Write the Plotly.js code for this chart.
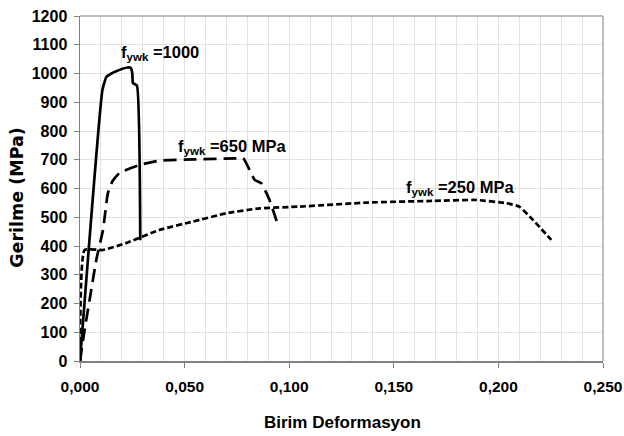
<!DOCTYPE html>
<html>
<head>
<meta charset="utf-8">
<script src="https://cdn.plot.ly/plotly-3.0.1.min.js"></script>
<style>html,body{margin:0;padding:0;background:#fff;}#chart{width:624px;height:436px;}</style>
</head>
<body>
<div id="chart"></div>
<script>
// f_ywk = 1000 (solid)
const strain1000 = [0, 0.0107, 0.0126, 0.0150, 0.0173, 0.0221, 0.0242, 0.0250, 0.0253, 0.0272, 0.0288];
const stress1000 = [0, 942, 988, 1000, 1008, 1020, 1020, 1000, 967, 958, 420];
// f_ywk = 650 MPa (long dash)
const strain650 = [0, 0.0022, 0.0046, 0.0078, 0.0110, 0.0133, 0.0155, 0.0190, 0.0285, 0.0380, 0.0540, 0.0747, 0.0780, 0.0811, 0.0835, 0.0867, 0.0906, 0.0946];
const stress650 = [0, 108, 213, 352, 456, 583, 625, 655, 682, 697, 701, 705, 706, 664, 630, 618, 560, 473];
// f_ywk = 250 MPa (short dash)
const strain250 = [0, 0.0022, 0.0110, 0.0220, 0.0380, 0.0540, 0.0700, 0.0859, 0.1050, 0.1370, 0.1690, 0.1894, 0.2038, 0.2100, 0.2165, 0.2253];
const stress250 = [0, 386, 386, 410, 456, 485, 514, 531, 537, 551, 557, 560, 549, 537, 491, 421];

const labels = ["f<sub>ywk</sub> =1000", "f<sub>ywk</sub> =650 MPa", "f<sub>ywk</sub> =250 MPa"];
const labelX = [0.0185, 0.0460, 0.1550];
const labelY = [1073, 744, 601];

const xTitle = 'Birim Deformasyon';
const yTitle = 'Gerilme (MPa)';

const line = (x, y, dash) => ({x, y, type: 'scatter', mode: 'lines',
  line: {color: '#000', width: 2.7, dash, shape: 'spline', smoothing: 0.4}, hoverinfo: 'skip'});

const data = [
  line(strain1000, stress1000, 'solid'),
  line(strain650, stress650, '13px,7px'),
  line(strain250, stress250, '6px,3px')
];

const FAM = 'Liberation Sans, Arial, sans-serif';
const annotations = labels.map((t, i) => ({
  x: labelX[i], y: labelY[i], xref: 'x', yref: 'y', text: '<b>' + t + '</b>', showarrow: false,
  xanchor: 'left', yanchor: 'middle',
  font: {family: FAM, size: 16.5, color: '#000'}
}));
annotations.push({
  xref: 'paper', yref: 'paper', x: -0.121, y: 0.475, text: '<b>' + yTitle + '</b>', textangle: -90,
  showarrow: false, xanchor: 'center', yanchor: 'middle',
  font: {family: 'DejaVu Sans, sans-serif', size: 17.5, color: '#000'}
});
annotations.push({
  xref: 'paper', yref: 'paper', x: 0.502, y: -0.1785, text: '<b>' + xTitle + '</b>',
  showarrow: false, xanchor: 'center', yanchor: 'middle',
  font: {family: FAM, size: 17, color: '#000'}
});

const layout = {
  width: 624, height: 436,
  margin: {l: 80.4, r: 20.6, t: 15.7, b: 74.7},
  paper_bgcolor: '#fff', plot_bgcolor: '#fff',
  showlegend: false,
  separators: ', ',
  xaxis: {
    range: [0, 0.25], dtick: 0.05, tick0: 0, tickformat: '.3f',
    showgrid: true, gridcolor: '#e2e2e2', gridwidth: 1,
    minor: {dtick: 0.01, showgrid: true, gridcolor: '#e2e2e2', ticks: ''},
    showline: true, linecolor: '#808080', linewidth: 1.5, mirror: false,
    ticks: 'outside', ticklen: 5, tickcolor: '#808080',
    tickfont: {family: FAM, size: 15.5, color: '#000', weight: 'bold'},
    ticklabelstandoff: 6, zeroline: false
  },
  yaxis: {
    range: [0, 1200], dtick: 100, tick0: 0,
    showgrid: true, gridcolor: '#e2e2e2', gridwidth: 1,
    showline: true, linecolor: '#808080', linewidth: 1.5,
    ticks: 'outside', ticklen: 5, tickcolor: '#808080',
    tickfont: {family: FAM, size: 16, color: '#000', weight: 'bold'},
    ticklabelstandoff: 3, zeroline: false
  },
  shapes: [
    {type: 'line', xref: 'paper', yref: 'paper', x0: 0, x1: 1, y0: 1, y1: 1, line: {color: '#a8a8a8', width: 1.5}},
    {type: 'line', xref: 'paper', yref: 'paper', x0: 1, x1: 1, y0: 0, y1: 1, line: {color: '#a8a8a8', width: 1.5}}
  ],
  annotations
};

Plotly.newPlot('chart', data, layout, {staticPlot: true, displayModeBar: false});
</script>
</body>
</html>
